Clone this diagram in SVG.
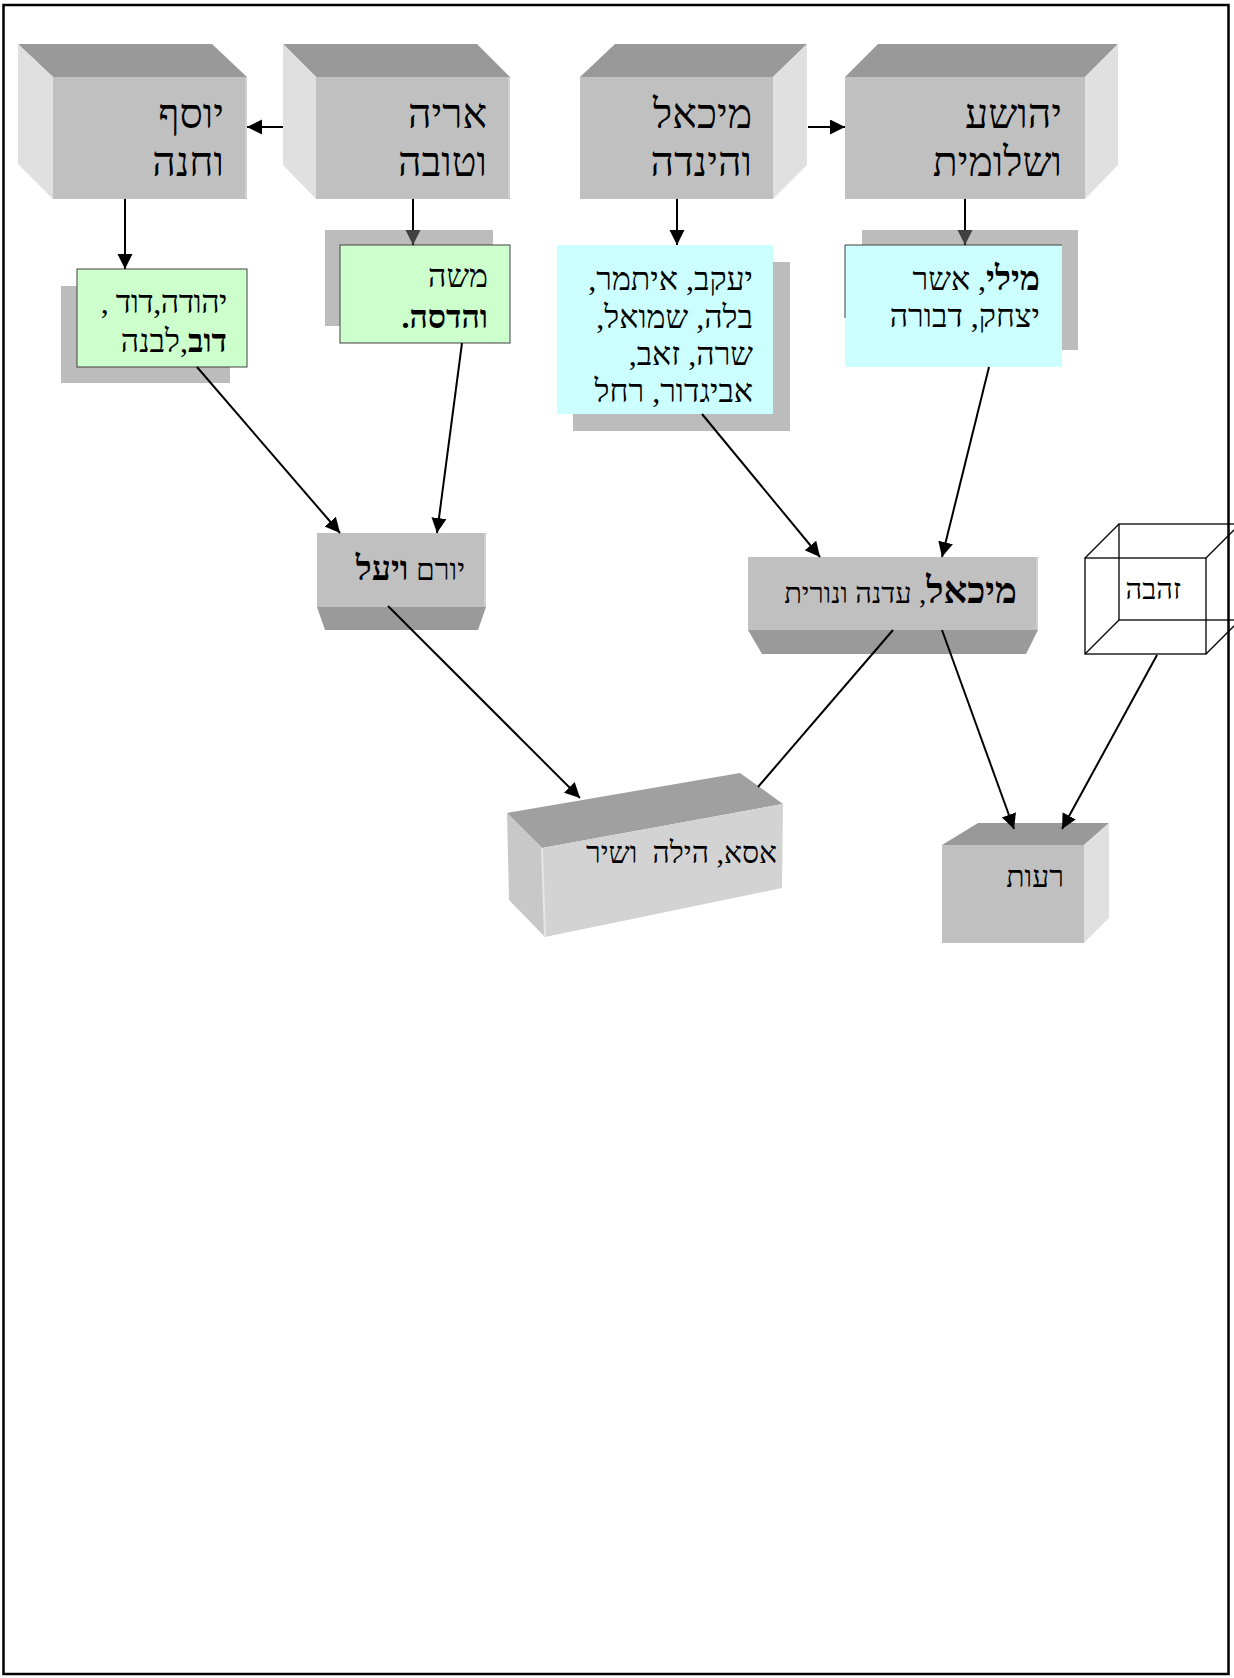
<svg xmlns="http://www.w3.org/2000/svg" width="1234" height="1678" viewBox="0 0 1234 1678">
<defs>
<style>
text{font-family:"Liberation Serif","DejaVu Serif",serif;fill:#000;direction:rtl;text-anchor:start}
.big{font-size:41px}
.mid{font-size:32px}
.b{font-weight:bold}
.front{fill:#c0c0c0}
.top{fill:#999999}
.side{fill:#e0e0e0}
.bot{fill:#9a9a9a}
.shadow{fill:#bcbcbc}
.green{fill:#ccffcc;stroke:#404040;stroke-width:1}
.cyan{fill:#ccffff}
.con{stroke:#000;stroke-width:2;fill:none}
.wire{fill:none;stroke:#000;stroke-width:1.3}
.hl{stroke:#d6d6d6;stroke-width:1.5;fill:none}
</style>
<marker id="ah" markerWidth="16" markerHeight="16" refX="15" refY="7.5" orient="auto" markerUnits="userSpaceOnUse"><path d="M0,0 L15,7.5 L0,15 z" fill="#000"/></marker>
<marker id="ahg" markerWidth="16" markerHeight="16" refX="15" refY="7.5" orient="auto" markerUnits="userSpaceOnUse"><path d="M0,0 L15,7.5 L0,15 z" fill="#404040"/></marker>
</defs>
<rect x="0" y="0" width="1234" height="1678" fill="#fff"/>
<rect x="3.5" y="5" width="1225" height="1669" fill="none" stroke="#000" stroke-width="2.5"/>

<g id="yosef-hana">
<polygon class="top" points="18,44 212,44 247,77 53,77"/>
<polygon class="side" points="18,44 53,77 53,199 18,164"/>
<rect class="front" x="53" y="77" width="194" height="122"/>
<path class="hl" d="M246,78 V198"/>
<text class="big" x="224" y="128">יוסף</text>
<text class="big" x="224" y="176">וחנה</text>
</g>

<g id="arie-tova">
<polygon class="top" points="283,44 477,44 510,77 316,77"/>
<polygon class="side" points="283,44 316,77 316,199 283,165"/>
<rect class="front" x="316" y="77" width="194" height="122"/>
<path class="hl" d="M509,78 V198"/>
<text class="big" x="487" y="128">אריה</text>
<text class="big" x="487" y="176">וטובה</text>
</g>

<g id="michael-hinda">
<polygon class="top" points="615,44 807,44 773,77 580,77"/>
<polygon class="side" points="773,77 807,44 807,165 773,199"/>
<rect class="front" x="580" y="77" width="193" height="122"/>
<text class="big" x="752" y="128">מיכאל</text>
<text class="big" x="752" y="176">והינדה</text>
</g>

<g id="yehoshua-shlomit">
<polygon class="top" points="878,44 1118,44 1085,77 845,77"/>
<polygon class="side" points="1085,77 1118,44 1118,165 1085,199"/>
<rect class="front" x="845" y="77" width="240" height="122"/>
<text class="big" x="1062" y="128">יהושע</text>
<text class="big" x="1062" y="176">ושלומית</text>
</g>

<g id="yehuda-david">
<rect class="shadow" x="61" y="286" width="169" height="97"/>
<rect class="green" x="77" y="269" width="170" height="98"/>
<text class="mid" x="227" y="313" style="letter-spacing:-0.5px">יהודה,דוד ,</text>
<text class="mid" x="227" y="352"><tspan class="b">דוב</tspan>,לבנה</text>
</g>

<g id="moshe-hadasa">
<rect class="shadow" x="325" y="230" width="168" height="96"/>
<rect class="green" x="340" y="245" width="170" height="98"/>
<text class="mid" x="488" y="287">משה</text>
<text class="mid b" x="488" y="328">והדסה.</text>
</g>

<g id="yaakov-itamar">
<rect class="shadow" x="573" y="262" width="217" height="169"/>
<rect class="cyan" x="557" y="245" width="216" height="169"/>
<text class="mid" x="753" y="290">יעקב, איתמר,</text>
<text class="mid" x="753" y="328">בלה, שמואל,</text>
<text class="mid" x="753" y="365">שרה, זאב,</text>
<text class="mid" x="753" y="402">אביגדור, רחל</text>
</g>

<g id="mili-asher">
<rect class="shadow" x="862" y="230" width="216" height="120"/>
<rect class="cyan" x="845" y="245" width="217" height="122"/>
<path d="M845,318 V245 H1062" fill="none" stroke="#404040" stroke-width="1"/>
<text class="mid" x="1040" y="290"><tspan class="b" style="font-size:34px">מילי</tspan>, אשר</text>
<text class="mid" x="1040" y="327">יצחק, דבורה</text>
</g>

<g id="yoram-yael">
<polygon class="bot" points="317,607 486,607 478,630 325,630"/>
<rect class="front" x="317" y="533" width="169" height="74"/>
<path class="hl" d="M485,534 V606"/>
<text x="465" y="580" style="font-size:30px">יורם <tspan class="b" style="font-size:34px">ויעל</tspan></text>
</g>

<g id="michael-edna-nurit">
<polygon class="bot" points="748,630 1038,630 1026,654 762,654"/>
<rect class="front" x="748" y="557" width="290" height="73"/>
<path class="hl" d="M1037,558 V629"/>
<text x="1017" y="603" style="font-size:29px"><tspan class="b" style="font-size:37px">מיכאל</tspan>, עדנה ונורית</text>
</g>

<g id="zehava">
<rect class="wire" x="1119" y="524" width="121" height="96"/>
<rect class="wire" x="1085" y="558" width="121" height="96"/>
<path class="wire" d="M1085,558 L1119,524 M1206,558 L1240,524 M1085,654 L1119,620 M1206,654 L1240,620"/>
<text x="1181" y="599" style="font-size:29px">זהבה</text>
</g>

<g id="asa-hila-shir">
<polygon fill="#a0a0a0" points="507,813 740,773 783,804 542,848"/>
<polygon fill="#c8c8c8" points="507,813 542,848 545,937 509,900"/>
<polygon fill="#d3d3d3" points="542,848 783,804 782,888 545,937"/>
<path d="M542,848 L545,937" stroke="#e6e6e6" stroke-width="2" fill="none"/>
<text x="777" y="863" style="font-size:30px" xml:space="preserve">אסא, הילה  ושיר</text>
</g>

<g id="reut">
<polygon class="top" points="942,845 1084,845 1109,823 978,823"/>
<polygon class="side" points="1084,845 1109,823 1109,918 1084,943"/>
<rect class="front" x="942" y="845" width="142" height="98"/>
<text x="1064" y="887" style="font-size:30px">רעות</text>
</g>

<g id="connectors">
<line class="con" x1="283" y1="127" x2="247" y2="127" marker-end="url(#ah)"/>
<line class="con" x1="808" y1="127" x2="845" y2="127" marker-end="url(#ah)"/>
<line class="con" x1="125" y1="199" x2="125" y2="269" marker-end="url(#ah)"/>
<line class="con" x1="413" y1="199" x2="413" y2="245" marker-end="url(#ahg)"/>
<line class="con" x1="677" y1="199" x2="677" y2="245" marker-end="url(#ah)"/>
<line class="con" x1="965" y1="199" x2="965" y2="245" marker-end="url(#ahg)"/>
<line class="con" x1="197" y1="367" x2="340" y2="533" marker-end="url(#ah)"/>
<line class="con" x1="462" y1="343" x2="437" y2="533" marker-end="url(#ah)"/>
<line class="con" x1="702" y1="414" x2="820" y2="557" marker-end="url(#ah)"/>
<line class="con" x1="989" y1="367" x2="942" y2="557" marker-end="url(#ah)"/>
<line class="con" x1="388" y1="606" x2="580" y2="798" marker-end="url(#ah)"/>
<line class="con" x1="893" y1="630" x2="758" y2="787"/>
<line class="con" x1="942" y1="630" x2="1014" y2="829" marker-end="url(#ah)"/>
<line class="con" x1="1157" y1="655" x2="1062" y2="829" marker-end="url(#ah)"/>
</g>
</svg>
